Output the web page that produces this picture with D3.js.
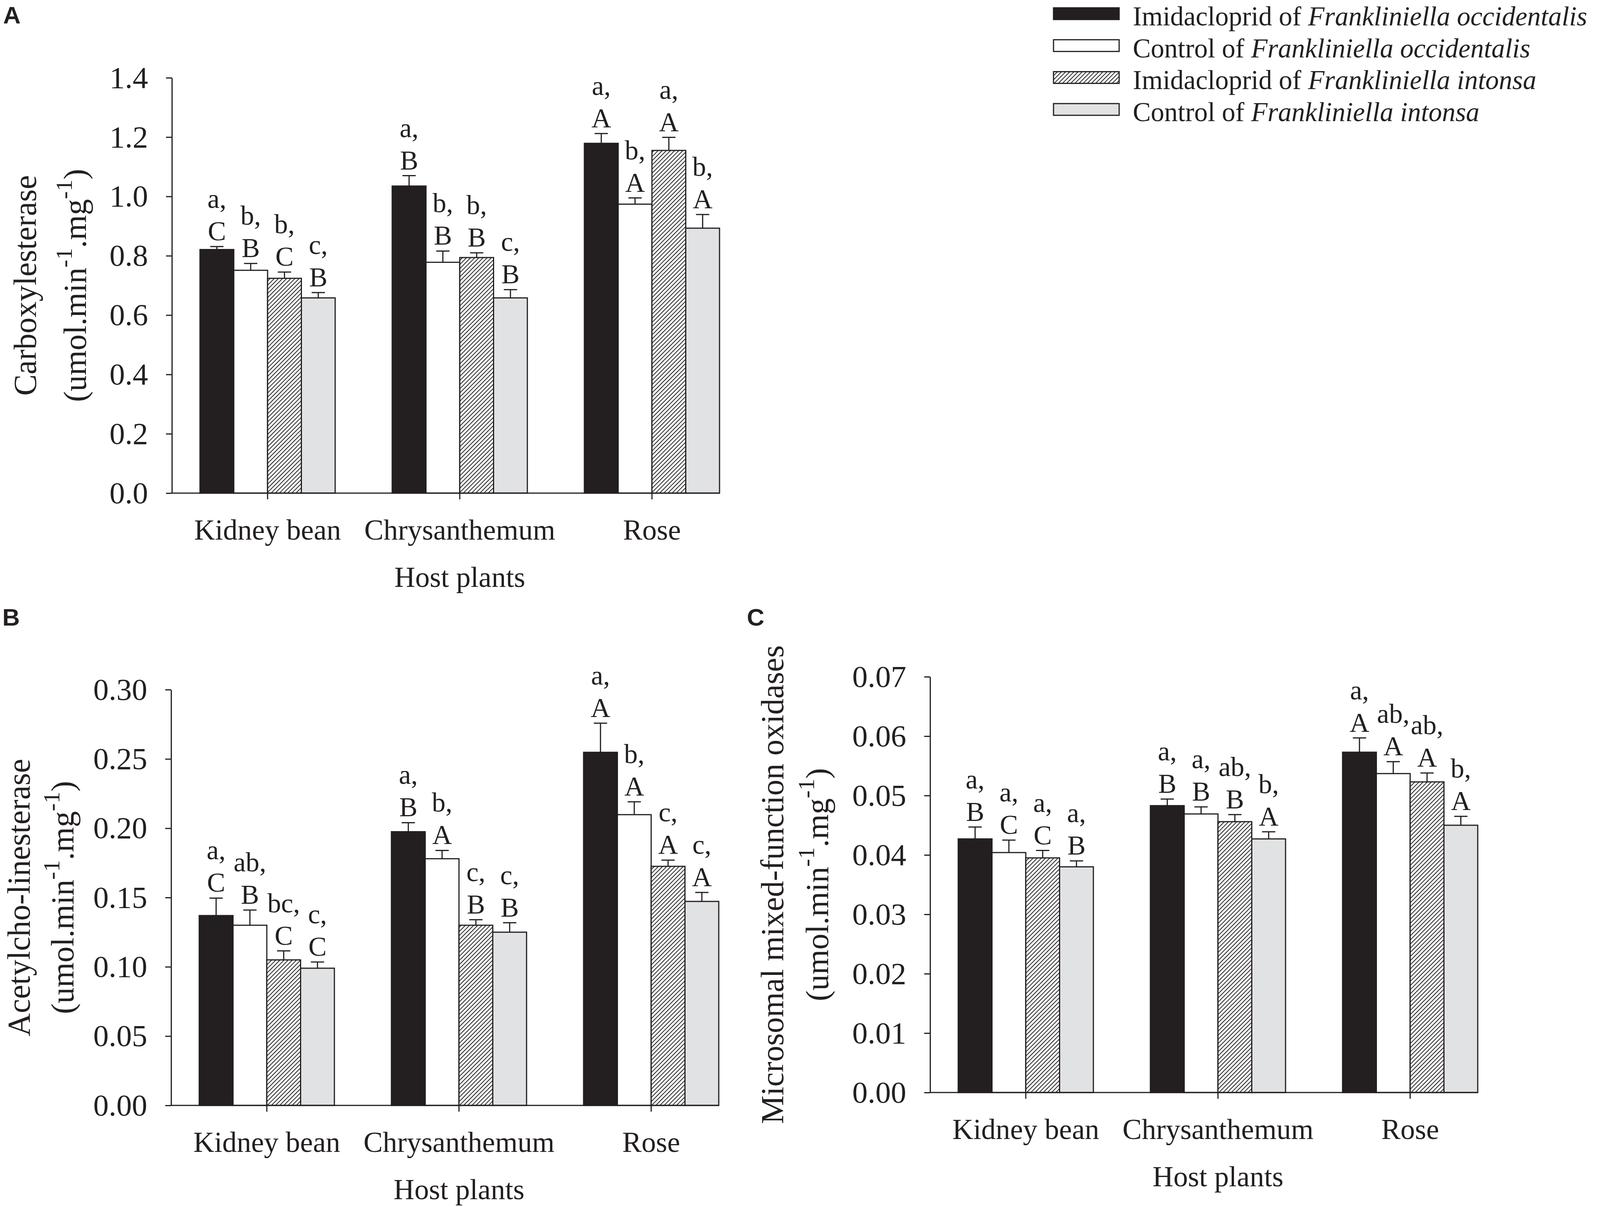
<!DOCTYPE html>
<html lang="en">
<head>
    <meta charset="UTF-8">
    <title>Detoxification enzymes of two thrips species on three host plants</title>
    <script src="https://d3js.org/d3.v7.min.js"></script>
    <style>
        body { margin: 0; background: #fff; }
        svg text { font-family: "Liberation Serif", "Times New Roman", serif; fill: #231f20; }
        .panel-letter { font-family: "Liberation Sans", Arial, sans-serif; font-weight: bold; }
        .axis path, .axis line { stroke: #231f20; stroke-width: 3; }
    </style>
</head>
<body>
    <svg id="chart" width="4177" height="3089"></svg>
    <script>
        // Categories and series
        const hosts = ["Kidney bean", "Chrysanthemum", "Rose"];
        const treatments = ["Imidacloprid of", "Control of", "Imidacloprid of", "Control of"];
        const species = ["Frankliniella occidentalis", "Frankliniella occidentalis",
                         "Frankliniella intonsa", "Frankliniella intonsa"];

        // A: carboxylesterase (rows = hosts, cols = treatments)
        const carbMean = [[0.821, 0.751, 0.724, 0.658],
                          [1.035, 0.778, 0.794, 0.658],
                          [1.179, 0.974, 1.155, 0.893]];
        const carbErr = [[0.010, 0.023, 0.021, 0.018],
                         [0.035, 0.038, 0.016, 0.028],
                         [0.033, 0.021, 0.044, 0.046]];
        const carbLetters = [[["a,", "C"], ["b,", "B"], ["b,", "C"], ["c,", "B"]],
                             [["a,", "B"], ["b,", "B"], ["b,", "B"], ["c,", "B"]],
                             [["a,", "A"], ["b,", "A"], ["a,", "A"], ["b,", "A"]]];
        const carbTicks = [0, 0.2, 0.4, 0.6, 0.8, 1.0, 1.2, 1.4];

        // B: acetylcholinesterase
        const acheMean = [[0.137, 0.130, 0.105, 0.099],
                          [0.1975, 0.178, 0.130, 0.125],
                          [0.2548, 0.2098, 0.1725, 0.1472]];
        const acheErr = [[0.0126, 0.011, 0.0065, 0.0045],
                         [0.0065, 0.006, 0.004, 0.0068],
                         [0.021, 0.0093, 0.0045, 0.0065]];
        const acheLetters = [[["a,", "C"], ["ab,", "B"], ["bc,", "C"], ["c,", "C"]],
                             [["a,", "B"], ["b,", "A"], ["c,", "B"], ["c,", "B"]],
                             [["a,", "A"], ["b,", "A"], ["c,", "A"], ["c,", "A"]]];
        const acheTicks = [0, 0.05, 0.10, 0.15, 0.20, 0.25, 0.30];

        // C: microsomal mixed-function oxidases
        const mfoMean = [[0.0427, 0.0404, 0.0395, 0.0380],
                         [0.0483, 0.0469, 0.0456, 0.0427],
                         [0.0573, 0.0537, 0.0523, 0.0450]];
        const mfoErr = [[0.0020, 0.0021, 0.00125, 0.0010],
                        [0.0011, 0.0012, 0.0012, 0.0012],
                        [0.0024, 0.0020, 0.0015, 0.0015]];
        const mfoLetters = [[["a,", "B"], ["a,", "C"], ["a,", "C"], ["a,", "B"]],
                            [["a,", "B"], ["a,", "B"], ["ab,", "B"], ["b,", "A"]],
                            [["a,", "A"], ["ab,", "A"], ["ab,", "A"], ["b,", "A"]]];
        const mfoTicks = [0, 0.01, 0.02, 0.03, 0.04, 0.05, 0.06, 0.07];

        const ink = "#231f20";
        const fills = [ink, "#ffffff", "url(#hatch)", "#e1e2e4"];

        const svg = d3.select("#chart");

        // Hatch pattern for the third series
        const pattern = svg.append("defs").append("pattern")
            .attr("id", "hatch")
            .attr("patternUnits", "userSpaceOnUse")
            .attr("width", 7.5)
            .attr("height", 7.5)
            .attr("patternTransform", "rotate(45)");
        pattern.append("rect").attr("width", 7.5).attr("height", 7.5).attr("fill", "#fff");
        pattern.append("line")
            .attr("x1", 1).attr("y1", 0).attr("x2", 1).attr("y2", 7.5)
            .attr("stroke", ink).attr("stroke-width", 2);

        function drawPanel(p) {
            const g = svg.append("g");

            // Scales
            const x = d3.scaleBand()
                .domain(hosts)
                .range([p.axisX + 72, p.axisX + 1402])
                .paddingInner(0.2967)
                .paddingOuter(0);
            const xs = d3.scaleBand()
                .domain(d3.range(treatments.length))
                .range([0, x.bandwidth()]);
            const y = d3.scaleLinear()
                .domain([0, d3.max(p.ticks)])
                .range([p.bottom, p.top]);

            // Bars
            const groups = g.selectAll(".host")
                .data(hosts)
                .enter().append("g")
                .attr("class", "host")
                .attr("transform", d => `translate(${x(d)},0)`);

            groups.each(function(host, hi) {
                const grp = d3.select(this);
                const rows = p.mean[hi].map((m, ti) => ({ m, e: p.err[hi][ti], ti, lab: p.letters[hi][ti] }));

                grp.selectAll("rect")
                    .data(rows)
                    .enter().append("rect")
                    .attr("x", d => xs(d.ti))
                    .attr("y", d => y(d.m))
                    .attr("width", xs.bandwidth())
                    .attr("height", d => y(0) - y(d.m))
                    .attr("fill", d => fills[d.ti])
                    .attr("stroke", ink)
                    .attr("stroke-width", 3);

                // Upper error bars
                grp.selectAll(".err")
                    .data(rows)
                    .enter().append("path")
                    .attr("class", "err")
                    .attr("d", d => {
                        const cx = xs(d.ti) + xs.bandwidth() / 2;
                        return `M${cx},${y(d.m)}V${y(d.m + d.e)}M${cx - 17},${y(d.m + d.e)}H${cx + 17}`;
                    })
                    .attr("fill", "none")
                    .attr("stroke", ink)
                    .attr("stroke-width", 3);

                // Significance letters
                const labs = grp.selectAll(".lab")
                    .data(rows)
                    .enter().append("text")
                    .attr("class", "lab")
                    .attr("text-anchor", "middle")
                    .style("font-size", "70px");
                labs.append("tspan")
                    .attr("x", d => xs(d.ti) + xs.bandwidth() / 2)
                    .attr("y", d => y(d.m + d.e) - 99)
                    .text(d => d.lab[0]);
                labs.append("tspan")
                    .attr("x", d => xs(d.ti) + xs.bandwidth() / 2)
                    .attr("y", d => y(d.m + d.e) - 16)
                    .text(d => d.lab[1]);
            });

            // X axis
            const xAxis = g.append("g")
                .attr("class", "axis")
                .attr("transform", `translate(0,${p.bottom})`)
                .call(d3.axisBottom(x).tickSize(16).tickSizeOuter(0).tickPadding(50));
            xAxis.select(".domain").remove();
            xAxis.selectAll("text").style("font-size", "74px");
            g.append("line")
                .attr("x1", p.axisX - 1.5).attr("x2", p.axisX + 1402)
                .attr("y1", p.bottom).attr("y2", p.bottom)
                .attr("stroke", ink).attr("stroke-width", 3);

            // Y axis
            const yAxis = g.append("g")
                .attr("class", "axis")
                .attr("transform", `translate(${p.axisX},0)`)
                .call(d3.axisLeft(y).tickValues(p.ticks).tickFormat(d3.format(p.fmt))
                    .tickSize(15).tickSizeOuter(0).tickPadding(46));
            yAxis.selectAll("text").style("font-size", "79px");

            // X axis title
            g.append("text")
                .attr("x", x(hosts[1]) + x.bandwidth() / 2)
                .attr("y", p.bottom + 240)
                .attr("text-anchor", "middle")
                .style("font-size", "74px")
                .text("Host plants");

            // Y axis title (two lines)
            const midY = (p.top + p.bottom) / 2;
            g.append("text")
                .attr("transform", `translate(${p.titleX[0]},${midY}) rotate(-90)`)
                .attr("text-anchor", "middle")
                .style("font-size", "82px")
                .text(p.title);
            const unit = g.append("text")
                .attr("transform", `translate(${p.titleX[1]},${midY}) rotate(-90)`)
                .attr("text-anchor", "middle")
                .style("font-size", "82px");
            unit.append("tspan").text("(umol.min");
            unit.append("tspan").attr("dy", -36).style("font-size", "60px").text("-1");
            unit.append("tspan").attr("dy", 36).text(".mg");
            unit.append("tspan").attr("dy", -36).style("font-size", "60px").text("-1");
            unit.append("tspan").attr("dy", 36).text(")");

            // Panel letter
            svg.append("text")
                .attr("class", "panel-letter")
                .attr("x", p.letterPos[0])
                .attr("y", p.letterPos[1])
                .style("font-size", "62px")
                .text(p.letter);
        }

        drawPanel({ letter: "A", letterPos: [8, 60], mean: carbMean, err: carbErr, letters: carbLetters,
                    ticks: carbTicks, fmt: ".1f", axisX: 440, top: 199, bottom: 1262,
                    title: "Carboxylesterase", titleX: [92, 220] });
        drawPanel({ letter: "B", letterPos: [6, 1601], mean: acheMean, err: acheErr, letters: acheLetters,
                    ticks: acheTicks, fmt: ".2f", axisX: 438, top: 1765, bottom: 2829,
                    title: "Acetylcho-linesterase", titleX: [76, 188] });
        drawPanel({ letter: "C", letterPos: [1912, 1601], mean: mfoMean, err: mfoErr, letters: mfoLetters,
                    ticks: mfoTicks, fmt: ".2f", axisX: 2381, top: 1732, bottom: 2796,
                    title: "Microsomal mixed-function oxidases", titleX: [2005, 2120] });

        // Legend
        const legend = svg.append("g").attr("class", "legend");
        const items = legend.selectAll("g")
            .data(treatments)
            .enter().append("g")
            .attr("transform", (d, i) => `translate(0,${i * 81.7})`);
        items.append("rect")
            .attr("x", 2697).attr("y", 20)
            .attr("width", 168).attr("height", 30)
            .attr("fill", (d, i) => fills[i])
            .attr("stroke", ink).attr("stroke-width", 3);
        const lt = items.append("text")
            .attr("x", 2900).attr("y", 65)
            .style("font-size", "69px");
        lt.append("tspan").text(d => d + " ");
        lt.append("tspan").style("font-style", "italic").text((d, i) => species[i]);
    </script>
</body>
</html>
